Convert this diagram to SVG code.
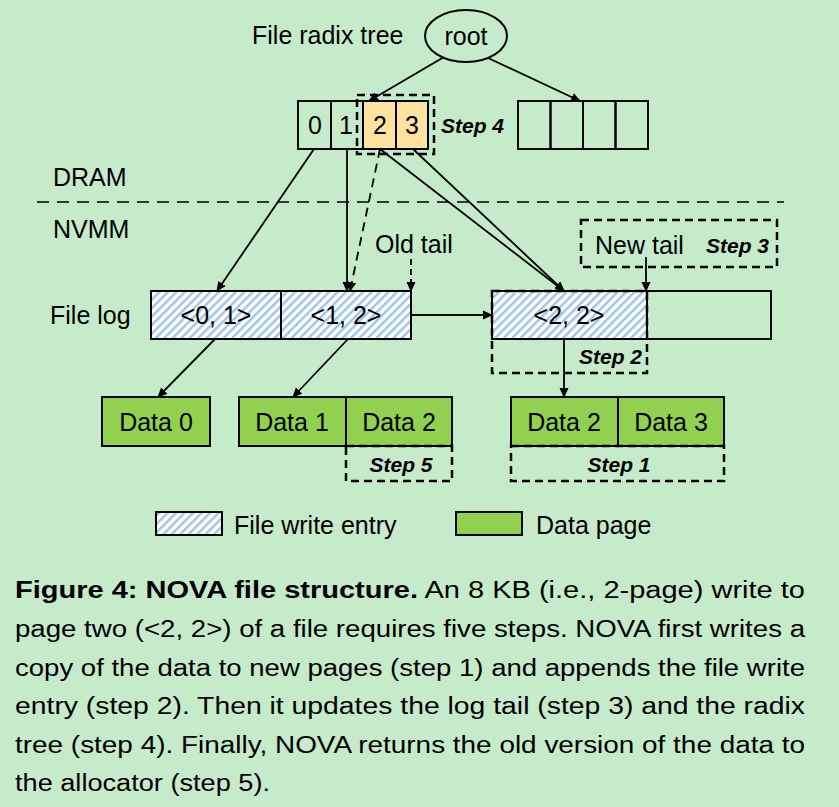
<svg xmlns="http://www.w3.org/2000/svg" width="839" height="807" viewBox="0 0 839 807">
<defs>
<pattern id="hatch" patternUnits="userSpaceOnUse" width="6" height="6" patternTransform="rotate(45)">
<rect width="6" height="6" fill="#ffffff"/>
<rect width="2.4" height="6" fill="#9dc3ea"/>
</pattern>
<marker id="arr" markerWidth="10" markerHeight="10" refX="9" refY="5" orient="auto" markerUnits="userSpaceOnUse" viewBox="0 0 10 10">
<path d="M0,0.5 L10,5 L0,9.5 Z" fill="#000"/>
</marker>
</defs>
<style>
text{font-family:"Liberation Sans",Arial,sans-serif;fill:#000}
.t{font-size:25px}
.c{text-anchor:middle}
.st{font-size:21px;font-weight:bold;font-style:italic}
.box{stroke:#000;stroke-width:2;fill:none}
.dbox{stroke:#000;stroke-width:2.5;fill:none;stroke-dasharray:8,5}
.ln{stroke:#000;stroke-width:1.8;fill:none;marker-end:url(#arr)}
.dln{stroke:#000;stroke-width:1.8;fill:none;stroke-dasharray:9,6;marker-end:url(#arr)}
.hat{fill:url(#hatch);stroke:#000;stroke-width:2}
.grn{fill:#92d050;stroke:#000;stroke-width:2}
.org{fill:#ffe29e;stroke:#000;stroke-width:2}
.cap{font-size:23px}
</style>
<rect width="839" height="807" fill="#c6ebcb"/>

<g id="labels">
<text class="t" x="252" y="44">File radix tree</text>
<text class="t" x="53" y="186">DRAM</text>
<text class="t" x="53" y="238">NVMM</text>
<text class="t" x="50" y="324">File log</text>
<text class="t" x="375" y="253">Old tail</text>
</g>
<line x1="37" y1="202" x2="784" y2="202" stroke="#000" stroke-width="1.5" stroke-dasharray="12,8"/>

<g id="root">
<ellipse cx="466" cy="36" rx="41" ry="26" fill="none" stroke="#000" stroke-width="2"/>
<text class="t c" x="466" y="45">root</text>
</g>

<g id="radix-left">
<rect class="box" x="298" y="101" width="33" height="48"/>
<rect class="box" x="331" y="101" width="32" height="48"/>
<rect class="org" x="363" y="101" width="33" height="48"/>
<rect class="org" x="396" y="101" width="32" height="48"/>
<text class="t c" x="315" y="134">0</text>
<text class="t c" x="346" y="134">1</text>
<text class="t c" x="380" y="134">2</text>
<text class="t c" x="412" y="134">3</text>
</g>
<g id="step4">
<rect class="dbox" x="357" y="95" width="77" height="59"/>
<text class="st" x="441" y="133">Step 4</text>
</g>

<g id="radix-right">
<rect class="box" x="518" y="101" width="32.5" height="48"/>
<rect class="box" x="550.5" y="101" width="32.5" height="48"/>
<rect class="box" x="583" y="101" width="32.5" height="48"/>
<rect class="box" x="615.5" y="101" width="32.5" height="48"/>
</g>

<g id="log-01">
<rect class="hat" x="151" y="291" width="130" height="48"/>
<text class="t c" x="216" y="324">&lt;0, 1&gt;</text>
</g>
<g id="log-12">
<rect class="hat" x="281" y="291" width="130" height="48"/>
<text class="t c" x="346" y="324">&lt;1, 2&gt;</text>
</g>
<g id="log-22">
<rect class="hat" x="492" y="291" width="155" height="48"/>
<text class="t c" x="569" y="324">&lt;2, 2&gt;</text>
</g>
<g id="log-empty">
<rect class="box" x="647" y="291" width="124" height="48"/>
</g>
<g id="step2">
<rect class="dbox" x="492" y="291" width="155" height="82"/>
<text class="st" x="642" y="364" text-anchor="end">Step 2</text>
</g>
<g id="step3">
<rect class="dbox" x="581" y="220" width="196" height="47"/>
<text class="t" x="595" y="254">New tail</text>
<text class="st" x="769" y="253" text-anchor="end">Step 3</text>
</g>

<g id="data0">
<rect class="grn" x="102" y="397" width="108" height="49"/>
<text class="t c" x="156" y="431">Data 0</text>
</g>
<g id="data1">
<rect class="grn" x="239" y="397" width="107" height="49"/>
<text class="t c" x="292" y="431">Data 1</text>
</g>
<g id="data2-old">
<rect class="grn" x="346" y="397" width="106" height="49"/>
<text class="t c" x="399" y="431">Data 2</text>
</g>
<g id="step5">
<rect class="dbox" x="346" y="446" width="106" height="35"/>
<text class="st c" x="401" y="472">Step 5</text>
</g>
<g id="data2-new">
<rect class="grn" x="511" y="397" width="107" height="49"/>
<text class="t c" x="564" y="431">Data 2</text>
</g>
<g id="data3">
<rect class="grn" x="618" y="397" width="106" height="49"/>
<text class="t c" x="671" y="431">Data 3</text>
</g>
<g id="step1">
<rect class="dbox" x="511" y="446" width="213" height="35"/>
<text class="st c" x="619" y="472">Step 1</text>
</g>

<g id="connectors">
<line class="ln" x1="444" y1="57" x2="369" y2="101"/>
<line class="ln" x1="488" y1="58" x2="580" y2="101"/>
<line class="ln" x1="314" y1="149" x2="217" y2="291"/>
<line class="ln" x1="347" y1="149" x2="347" y2="291"/>
<line class="dln" x1="380" y1="149" x2="350" y2="291"/>
<line class="ln" x1="380" y1="149" x2="564" y2="291"/>
<line class="ln" x1="413" y1="149" x2="564" y2="291"/>
<line class="dln" x1="411" y1="259" x2="411" y2="291" style="stroke-dasharray:6,4"/>
<line class="ln" x1="411" y1="315" x2="492" y2="315"/>
<line class="ln" x1="646" y1="257" x2="646" y2="291"/>
<line class="ln" x1="564" y1="339" x2="564" y2="397"/>
<line class="ln" x1="215" y1="339" x2="158" y2="397"/>
<line class="ln" x1="348" y1="339" x2="293" y2="397"/>
</g>

<g id="legend">
<rect class="hat" x="156" y="512" width="66" height="23"/>
<text class="t" x="234" y="534">File write entry</text>
<rect class="grn" x="456" y="512" width="66" height="23"/>
<text class="t" x="536" y="534">Data page</text>
</g>

<g id="caption">
<text class="cap" x="15" y="598" textLength="790" lengthAdjust="spacingAndGlyphs"><tspan font-weight="bold">Figure 4: NOVA file structure.</tspan> An 8 KB (i.e., 2-page) write to</text>
<text class="cap" x="15" y="637" textLength="790" lengthAdjust="spacingAndGlyphs">page two (&lt;2, 2&gt;) of a file requires five steps. NOVA first writes a</text>
<text class="cap" x="15" y="676" textLength="790" lengthAdjust="spacingAndGlyphs">copy of the data to new pages (step 1) and appends the file write</text>
<text class="cap" x="15" y="714" textLength="790" lengthAdjust="spacingAndGlyphs">entry (step 2). Then it updates the log tail (step 3) and the radix</text>
<text class="cap" x="15" y="753" textLength="790" lengthAdjust="spacingAndGlyphs">tree (step 4). Finally, NOVA returns the old version of the data to</text>
<text class="cap" x="15" y="791" textLength="255" lengthAdjust="spacingAndGlyphs">the allocator (step 5).</text>
</g>
</svg>
